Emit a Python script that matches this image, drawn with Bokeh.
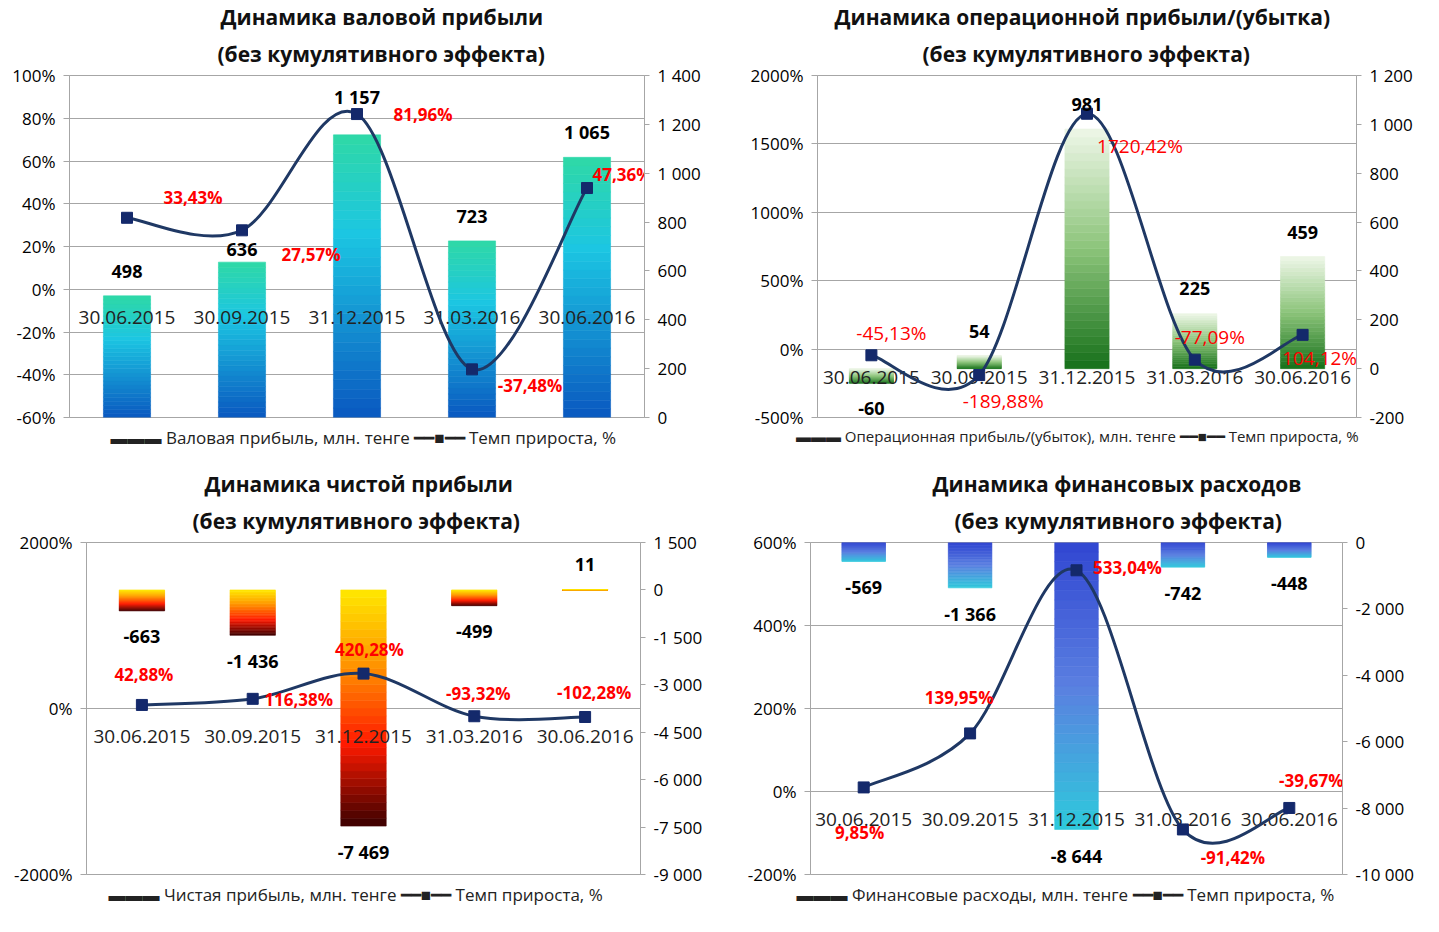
from bokeh.plotting import figure
from bokeh.models import (ColumnDataSource, Range1d, LinearAxis, FixedTicker,
                          Title, FactorRange)
from bokeh.layouts import column, row
from bokeh.embed import file_html
from bokeh.resources import INLINE
from bokeh.core.properties import value

# ---------------- data ----------------
DATES = ["30.06.2015", "30.09.2015", "31.12.2015", "31.03.2016", "30.06.2016"]

GROSS_PROFIT = [498, 636, 1157, 723, 1065]
GROSS_GROWTH = [33.43, 27.57, 81.96, -37.48, 47.36]

OPER_PROFIT = [-60, 54, 981, 225, 459]
OPER_GROWTH = [-45.13, -189.88, 1720.42, -77.09, 104.12]

NET_PROFIT = [-663, -1436, -7469, -499, 11]
NET_GROWTH = [42.88, 116.38, 420.28, -93.32, -102.28]

FIN_EXPENSE = [-569, -1366, -8644, -742, -448]
FIN_GROWTH = [9.85, 139.95, 533.04, -91.42, -39.67]

TL_LEFT_TICKS = [-60, -40, -20, 0, 20, 40, 60, 80, 100]
TL_RIGHT_TICKS = [0, 200, 400, 600, 800, 1000, 1200, 1400]
TR_LEFT_TICKS = [-500, 0, 500, 1000, 1500, 2000]
TR_RIGHT_TICKS = [-200, 0, 200, 400, 600, 800, 1000, 1200]
BL_LEFT_TICKS = [-2000, 0, 2000]
BL_RIGHT_TICKS = [-9000, -7500, -6000, -4500, -3000, -1500, 0, 1500]
BR_LEFT_TICKS = [-200, 0, 200, 400, 600]
BR_RIGHT_TICKS = [-10000, -8000, -6000, -4000, -2000, 0]

SUBTITLE = "(без кумулятивного эффекта)"
GROWTH_NAME = "Темп прироста, %"

FONT = "Open Sans"
NAVY_LINE = "#1f3864"
NAVY_MARK = "#14296b"
GRID = "#a6a6a6"
NSEG = 30


def num_label(v):
    return f"{v:,}".replace(",", " ")


def pct_label(v):
    return f"{v:.2f}".replace(".", ",")+"%"


def hex_to_rgb(h):
    h = h.lstrip("#")
    return tuple(int(h[i:i+2], 16) for i in (0, 2, 4))


def grad(stops, t):
    for (p0, c0), (p1, c1) in zip(stops[:-1], stops[1:]):
        if t <= p1:
            f = (t - p0) / (p1 - p0) if p1 > p0 else 0
            a, b = hex_to_rgb(c0), hex_to_rgb(c1)
            return "#%02x%02x%02x" % tuple(int(round(a[i] + (b[i]-a[i])*f)) for i in range(3))
    return stops[-1][1]


def make_chart(cfg):
    p = figure(width=cfg["width"], height=cfg["height"], output_backend="svg",
               toolbar_location=None, x_range=FactorRange(*DATES), title=None,
               y_range=Range1d(*cfg["left_range"]), x_axis_location=None,
               y_axis_location="left",
               min_border_left=cfg["borders"][0], min_border_right=cfg["borders"][1],
               min_border_top=cfg["borders"][2], min_border_bottom=cfg["borders"][3],
               background_fill_color="white", border_fill_color="white",
               outline_line_color=GRID)
    p.extra_y_ranges = {"right": Range1d(*cfg["right_range"])}

    # titles (two lines)
    p.add_layout(Title(text=SUBTITLE, align="left", text_font=FONT, text_font_size="21px",
                       text_font_style="bold", text_color="#111111",
                       offset=cfg["title_x"][1], standoff=15), "above")
    p.add_layout(Title(text=cfg["title"], align="left", text_font=FONT, text_font_size="21px",
                       text_font_style="bold", text_color="#111111",
                       offset=cfg["title_x"][0], standoff=0), "above")

    # legend line under the plot
    legend_text = "▬▬▬  " + cfg["legend"] + "     ━━■━━ " + GROWTH_NAME
    p.add_layout(Title(text=legend_text, align=cfg["legend_align"], text_font=FONT,
                       text_font_size=cfg["legend_size"], text_font_style="normal",
                       text_color="#222222", offset=cfg["legend_x"], standoff=12), "below")

    # left axis
    ya = p.yaxis[0]
    ya.ticker = FixedTicker(ticks=cfg["left_ticks"])
    ya.major_label_overrides = {t: f"{t}%" for t in cfg["left_ticks"]}
    ya.axis_line_color = GRID
    ya.major_tick_line_color = GRID
    ya.major_tick_out = 6
    ya.major_tick_in = 0
    ya.minor_tick_line_color = None
    ya.major_label_text_font = FONT
    ya.major_label_text_font_size = "17px"
    ya.major_label_text_color = "black"
    ya.major_label_standoff = 8

    # right axis
    ra = LinearAxis(y_range_name="right", ticker=FixedTicker(ticks=cfg["right_ticks"]),
                    major_label_overrides={t: num_label(t) for t in cfg["right_ticks"]},
                    axis_line_color=GRID, major_tick_line_color=GRID, major_tick_out=5,
                    major_tick_in=0, minor_tick_line_color=None,
                    major_label_text_font=FONT, major_label_text_font_size="17px",
                    major_label_text_color="black", major_label_standoff=8)
    p.add_layout(ra, "right")

    p.ygrid.ticker = FixedTicker(ticks=cfg["left_ticks"])
    p.ygrid.grid_line_color = GRID
    p.xgrid.grid_line_color = None

    # gradient bars (each bar split into thin slices of its own height)
    xs, bots, tops, cols = [], [], [], []
    for d, v in zip(DATES, cfg["bars"]):
        lo, hi = min(0, v), max(0, v)
        for k in range(NSEG):
            xs.append(d)
            bots.append(lo + (hi - lo) * k / NSEG)
            tops.append(lo + (hi - lo) * (k + 1) / NSEG)
            cols.append(grad(cfg["stops"], 1 - (k + 0.5) / NSEG))
    p.vbar(x="x", bottom="b", top="t", width=0.41, fill_color="c", line_color="c",
           line_width=0.6, y_range_name="right",
           source=ColumnDataSource(dict(x=xs, b=bots, t=tops, c=cols)))

    # category labels along the 0% line
    p.text(x=DATES, y=[0] * len(DATES), text=DATES, y_offset=28, text_align="center",
           text_baseline="middle", text_font=value(FONT), text_font_size="19px",
           text_color="#222222")

    # smooth growth line (Bezier through data points)
    ys = cfg["growth"]
    n = len(ys)
    px = [i + 0.5 for i in range(n)]
    t6 = 1.0 / 6.0
    bz = dict(x0=[], y0=[], x1=[], y1=[], cx0=[], cy0=[], cx1=[], cy1=[])
    for i in range(n - 1):
        xp, yp = (px[i-1], ys[i-1]) if i > 0 else (px[i], ys[i])
        xn, yn = (px[i+2], ys[i+2]) if i + 2 < n else (px[i+1], ys[i+1])
        bz["x0"].append(px[i]); bz["y0"].append(ys[i])
        bz["x1"].append(px[i+1]); bz["y1"].append(ys[i+1])
        bz["cx0"].append(px[i] + (px[i+1] - xp) * t6)
        bz["cy0"].append(ys[i] + (ys[i+1] - yp) * t6)
        bz["cx1"].append(px[i+1] - (xn - px[i]) * t6)
        bz["cy1"].append(ys[i+1] - (yn - ys[i]) * t6)
    p.bezier(x0="x0", y0="y0", x1="x1", y1="y1", cx0="cx0", cy0="cy0", cx1="cx1",
             cy1="cy1", line_color=NAVY_LINE, line_width=3, source=ColumnDataSource(bz))
    p.scatter(x=DATES, y=ys, marker="square", size=11, fill_color=NAVY_MARK,
              line_color=NAVY_MARK)

    # bar value labels
    p.text(x="x", y="y", text="t", y_offset="dy", y_range_name="right",
           text_align="center", text_baseline="middle", text_font=value(FONT),
           text_font_size="18px", text_font_style="bold", text_color="black",
           source=ColumnDataSource(dict(x=DATES, y=cfg["bars"],
                                        t=[num_label(v) for v in cfg["bars"]],
                                        dy=cfg["val_dy"])))
    # growth labels
    p.text(x="x", y="y", text="t", x_offset="dx", y_offset="dy",
           text_align="center", text_baseline="middle", text_font=value(FONT),
           text_font_size=cfg["pct_size"], text_font_style=cfg["pct_style"], text_color="#ff0000",
           source=ColumnDataSource(dict(x=DATES, y=ys, t=[pct_label(v) for v in ys],
                                        dx=[o[0] for o in cfg["pct_off"]],
                                        dy=[o[1] for o in cfg["pct_off"]])))
    return p


TL = dict(width=711, height=462, title="Динамика валовой прибыли", title_x=(151, 148),
          left_range=(-60, 100), right_range=(0, 1400),
          left_ticks=TL_LEFT_TICKS, right_ticks=TL_RIGHT_TICKS, borders=(69, 67, 71, 45),
          bars=GROSS_PROFIT, growth=GROSS_GROWTH,
          stops=[(0, "#2fd9a6"), (0.35, "#1cc6e2"), (1, "#0a58c0")],
          val_dy=[-24, -13, -38, -24, -25],
          pct_off=[(66, -20), (69, 24), (66, 0), (58, 16), (35, -14)],
          pct_size="17px", pct_style="bold",
          legend="Валовая прибыль, млн. тенге", legend_size="17px",
          legend_align="left", legend_x=41)

TR = dict(width=711, height=462, title="Динамика операционной прибыли/(убытка)",
          title_x=(17, 105), left_range=(-500, 2000), right_range=(-200, 1200),
          left_ticks=TR_LEFT_TICKS, right_ticks=TR_RIGHT_TICKS, borders=(106, 66, 73, 44),
          bars=OPER_PROFIT, growth=OPER_GROWTH,
          stops=[(0, "#eef7e8"), (0.5, "#8cc47a"), (1, "#16701a")],
          val_dy=[25, -24, -24, -25, -24],
          pct_off=[(20, -22), (24, 26), (53, 32), (15, -23), (17, 23)],
          pct_size="19px", pct_style="normal",
          legend="Операционная прибыль/(убыток), млн. тенге", legend_size="15px",
          legend_align="center", legend_x=0)

BL = dict(width=711, height=454, title="Динамика чистой прибыли", title_x=(118, 106),
          left_range=(-2000, 2000), right_range=(-9000, 1500),
          left_ticks=BL_LEFT_TICKS, right_ticks=BL_RIGHT_TICKS, borders=(86, 71, 80, 40),
          bars=NET_PROFIT, growth=NET_GROWTH,
          stops=[(0, "#ffe800"), (0.3, "#ff9a00"), (0.65, "#ff1a00"), (1, "#3a0000")],
          val_dy=[26, 26, 26, 26, -25],
          pct_off=[(2, -30), (46, 1), (6, -24), (4, -23), (9, -24)],
          pct_size="17px", pct_style="bold",
          legend="Чистая прибыль, млн. тенге", legend_size="17px",
          legend_align="left", legend_x=22)

BR = dict(width=711, height=454, title="Динамика финансовых расходов", title_x=(122, 144),
          left_range=(-200, 600), right_range=(-10000, 0),
          left_ticks=BR_LEFT_TICKS, right_ticks=BR_RIGHT_TICKS, borders=(99, 80, 76, 42),
          bars=FIN_EXPENSE, growth=FIN_GROWTH,
          stops=[(0, "#3146d2"), (0.5, "#5a7fe0"), (1, "#2ecbdc")],
          val_dy=[26, 26, 27, 26, 26],
          pct_off=[(-4, 45), (-11, -36), (51, -3), (50, 28), (22, -27)],
          pct_size="17px", pct_style="bold",
          legend="Финансовые расходы, млн. тенге", legend_size="17px",
          legend_align="center", legend_x=0)

layout = column(row(make_chart(TL), make_chart(TR)), row(make_chart(BL), make_chart(BR)))

open("out.html", "w").write(file_html(layout, INLINE))
